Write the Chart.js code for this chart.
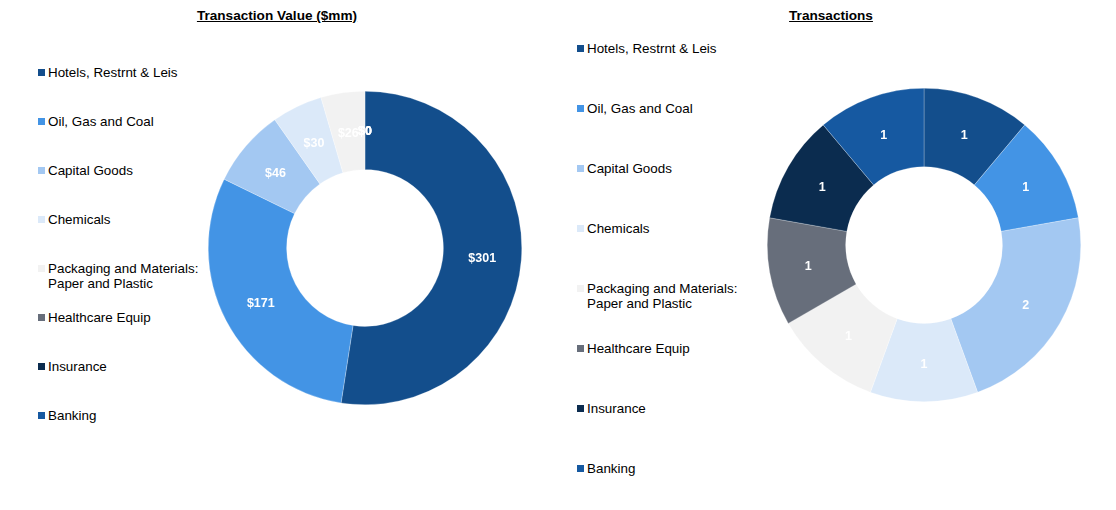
<!DOCTYPE html>
<html>
<head>
<meta charset="utf-8">
<script src="https://cdn.jsdelivr.net/npm/chart.js@4"></script>
<style>
  html, body { margin:0; padding:0; background:#fff; }
  body { width:1116px; height:510px; position:relative; overflow:hidden; font-family:"Liberation Sans", Arial, sans-serif; }
  .title { position:absolute; top:8px; font-weight:bold; font-size:13.6px; text-decoration:underline; color:#000; transform:translateX(-50%); white-space:nowrap; }
  .legend { position:absolute; font-size:13.4px; color:#000; }
  .item { position:absolute; left:0; white-space:nowrap; line-height:15px; }
  .sw { position:absolute; left:0; top:4px; width:7px; height:7px; }
  .txt { position:absolute; left:10px; top:0; }
  .cv { position:absolute; }
</style>
</head>
<body>
<div class="title" style="left:277px">Transaction Value ($mm)</div>
<div class="title" style="left:831px">Transactions</div>
<div id="leg1" class="legend" style="left:38px; top:65px;"></div>
<div id="leg2" class="legend" style="left:577px; top:41px;"></div>
<div class="cv" style="left:207px; top:90px; width:316px; height:316px;"><canvas id="c1"></canvas></div>
<div class="cv" style="left:766px; top:87px; width:316px; height:316px;"><canvas id="c2"></canvas></div>
<script>
const categories = ["Hotels, Restrnt & Leis", "Oil, Gas and Coal", "Capital Goods", "Chemicals", "Packaging and Materials: Paper and Plastic", "Healthcare Equip", "Insurance", "Banking"];
const legendLines = [["Hotels, Restrnt & Leis"], ["Oil, Gas and Coal"], ["Capital Goods"], ["Chemicals"], ["Packaging and Materials:", "Paper and Plastic"], ["Healthcare Equip"], ["Insurance"], ["Banking"]];
const transactionValue = [301, 171, 46, 30, 26, 0, 0, 0];
const transactionCount = [1, 1, 2, 1, 1, 1, 1, 1];
const colors = ["#134e8c", "#4394e5", "#a3c8f2", "#dbe9f9", "#f2f2f2", "#676e7b", "#0b2c4f", "#1659a1"];

function buildLegend(id, spacing) {
  const el = document.getElementById(id);
  legendLines.forEach((lines, i) => {
    const it = document.createElement('div');
    it.className = 'item';
    it.style.top = (i * spacing) + 'px';
    const sw = document.createElement('div');
    sw.className = 'sw';
    sw.style.background = colors[i];
    const tx = document.createElement('div');
    tx.className = 'txt';
    tx.innerHTML = lines.join('<br>');
    it.appendChild(sw); it.appendChild(tx);
    el.appendChild(it);
  });
}
buildLegend('leg1', 49);
buildLegend('leg2', 60);

const labelPlugin = {
  id: 'arcLabels',
  afterDatasetsDraw(chart, args, opts) {
    const ctx = chart.ctx;
    const meta = chart.getDatasetMeta(0);
    const data = chart.data.datasets[0].data;
    ctx.save();
    ctx.font = 'bold 12.5px "Liberation Sans", Arial, sans-serif';
    ctx.fillStyle = '#ffffff';
    ctx.textAlign = 'center';
    ctx.textBaseline = 'middle';
    meta.data.forEach((arc, i) => {
      const p = arc.getProps(['x','y','startAngle','endAngle','innerRadius','outerRadius'], true);
      const a = (p.startAngle + p.endAngle) / 2;
      const r = (p.innerRadius + p.outerRadius) / 2;
      ctx.fillText(opts.fmt(data[i]), p.x + Math.cos(a) * r, p.y + Math.sin(a) * r + 1.5);
    });
    ctx.restore();
  }
};

function makeChart(id, values, fmt) {
  new Chart(document.getElementById(id), {
    type: 'doughnut',
    data: { labels: categories, datasets: [{ data: values, backgroundColor: colors, borderColor: 'rgba(255,255,255,0.5)', borderWidth: 0.5 }] },
    options: {
      responsive: true, maintainAspectRatio: false, animation: false,
      cutout: '50%',
      layout: { padding: 1 },
      plugins: { legend: { display: false }, tooltip: { enabled: false }, arcLabels: { fmt } }
    },
    plugins: [labelPlugin]
  });
}
makeChart('c1', transactionValue, v => '$' + v);
makeChart('c2', transactionCount, v => String(v));
</script>
</body>
</html>
